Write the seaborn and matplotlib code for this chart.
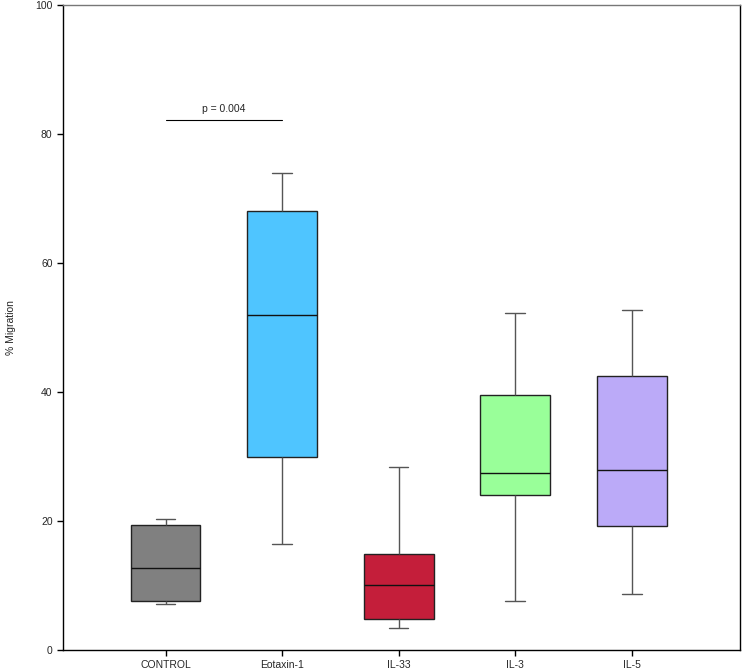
import matplotlib
matplotlib.use("Agg")
import matplotlib.pyplot as plt
import seaborn as sns
import pandas as pd

# Five-number summaries (whisker low, Q1, median, Q3, whisker high)
categories = ["CONTROL", "Eotaxin-1", "IL-33", "IL-3", "IL-5"]
control = [7.1, 7.6, 12.7, 19.4, 20.3]
eotaxin = [16.5, 29.9, 52.0, 68.1, 73.9]
il33 = [3.4, 4.8, 10.1, 14.9, 28.3]
il3 = [7.6, 24.1, 27.4, 39.6, 52.2]
il5 = [8.7, 19.3, 27.9, 42.5, 52.7]
colors = ["#808080", "#4FC5FF", "#C41E3A", "#99FF99", "#BBAAF8"]
y_ticks = [0, 20, 40, 60, 80, 100]
p_label = "p = 0.004"
p_level = 82.1

series = [control, eotaxin, il33, il3, il5]
df = pd.DataFrame({
    "group": [c for c, s in zip(categories, series) for _ in s],
    "value": [v for s in series for v in s],
})

sns.set_style("white")
plt.rcParams["font.family"] = ["Liberation Sans", "DejaVu Sans"]

fig = plt.figure(figsize=(7.49, 6.70), dpi=100)
ax = fig.add_axes([63 / 749, 20 / 670, 677 / 749, 645 / 670])

sns.boxplot(data=df, x="group", y="value", hue="group", order=categories,
            palette=dict(zip(categories, colors)), width=0.6, legend=False,
            linecolor="#222222", linewidth=1.0, saturation=1, ax=ax,
            whiskerprops=dict(color="#555555", linewidth=1.0),
            capprops=dict(color="#555555", linewidth=1.0),
            medianprops=dict(color="#111111", linewidth=1.0))

# shorten the whisker caps
for line in ax.lines:
    xd = line.get_xdata()
    yd = line.get_ydata()
    if len(xd) == 2 and yd[0] == yd[1] and xd[0] != xd[1]:
        xm = (xd[0] + xd[1]) / 2
        w = abs(xd[1] - xd[0])
        if w < 0.55:
            line.set_xdata([xm - 0.085, xm + 0.085])

ax.set_xlim(-0.88, 4.93)
ax.set_ylim(0, 100)
ax.set_yticks(y_ticks)
ax.set_xlabel("")
ax.set_ylabel("% Migration", fontsize=7.5, labelpad=14)
ax.tick_params(axis="both", which="major", labelsize=7.5, length=4, width=1,
               color="black", direction="out", bottom=True, left=True)

for side in ["left", "bottom", "right"]:
    ax.spines[side].set_visible(True)
    ax.spines[side].set_color("black")
    ax.spines[side].set_linewidth(1)
ax.spines["top"].set_color("#777777")
ax.spines["top"].set_linewidth(1)

# significance bar
ax.plot([0, 1], [p_level, p_level], color="black", linewidth=0.8)
ax.text(0.5, p_level + 1.0, p_label, ha="center", va="bottom", fontsize=7.5)

fig.savefig("out.png", dpi=100)
